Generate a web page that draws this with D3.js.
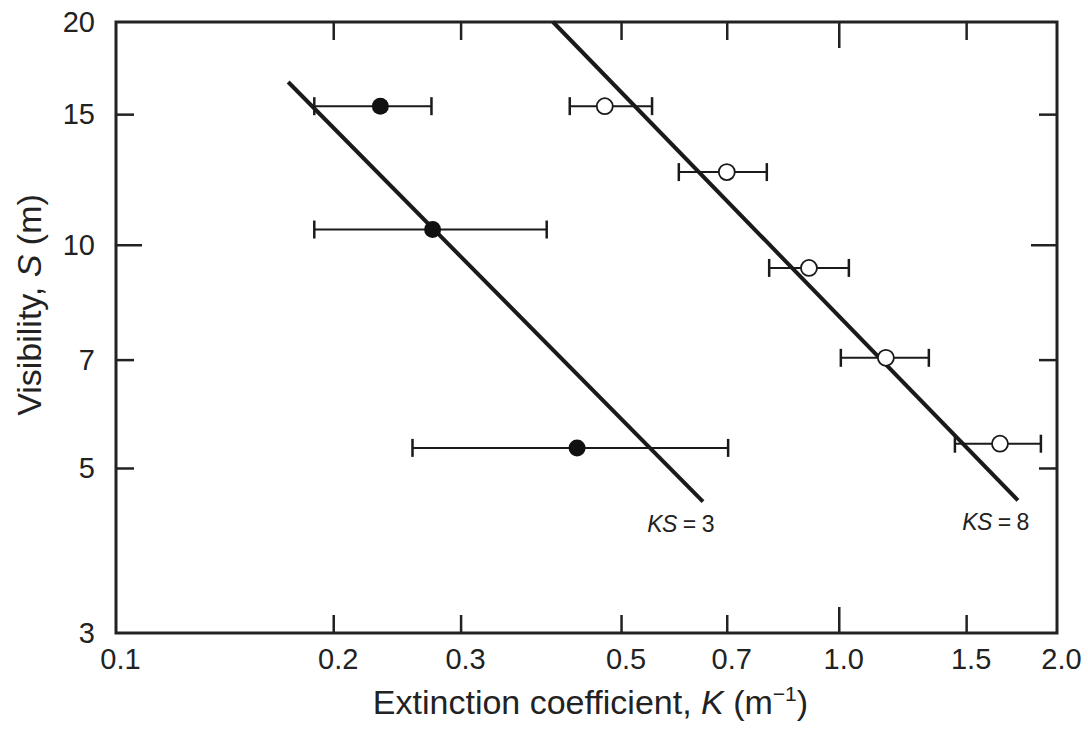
<!DOCTYPE html>
<html>
<head>
<meta charset="utf-8">
<script src="https://cdn.jsdelivr.net/npm/d3@7"></script>
<style>
  body { margin: 0; background: #fff; }
  text { font-family: "Liberation Sans", Arial, sans-serif; fill: #222; }
</style>
</head>
<body>
<script>
// Tick values
var xTicks = [0.1, 0.2, 0.3, 0.5, 0.7, 1.0, 1.5, 2.0];
var xTickLabels = ["0.1", "0.2", "0.3", "0.5", "0.7", "1.0", "1.5", "2.0"];
var yTicks = [3, 5, 7, 10, 15, 20];

// Filled circles (K, S, K low, K high)
var filledK = [0.232, 0.274, 0.434];
var filledS = [15.4, 10.5, 5.33];
var filledLo = [0.188, 0.188, 0.257];
var filledHi = [0.273, 0.394, 0.702];

// Open circles
var openK = [0.474, 0.699, 0.908, 1.16, 1.668];
var openS = [15.4, 12.55, 9.32, 7.05, 5.40];
var openLo = [0.424, 0.600, 0.800, 1.005, 1.445];
var openHi = [0.551, 0.794, 1.031, 1.330, 1.900];

// Lines of constant KS, endpoints [K, S]
var lineKS3 = [[0.173, 16.6], [0.648, 4.51]];
var lineKS8 = [[0.402, 20], [1.766, 4.53]];
var lineLabels = ["3", "8"];

var svgWidth = 1088;
var svgHeight = 735;

var svg = d3.select("body")
    .append("svg")
    .attr("width", svgWidth)
    .attr("height", svgHeight);

var x = d3.scaleLog()
    .domain([0.1, 2.0])
    .range([116, 1057]);

var y = d3.scaleLog()
    .domain([3, 20])
    .range([633, 22]);

var plotLeft = x.range()[0], plotRight = x.range()[1];
var plotTop = y.range()[1], plotBottom = y.range()[0];

// tick labels via axes (no tick lines, no domain)
var bottomAxis = d3.axisBottom(x)
    .tickValues(xTicks)
    .tickFormat((d, i) => xTickLabels[i])
    .tickSize(0)
    .tickPadding(15);

var leftAxis = d3.axisLeft(y)
    .tickValues(yTicks)
    .tickFormat(d3.format("d"))
    .tickSize(0)
    .tickPadding(21);

var gx = svg.append("g")
    .attr("transform", `translate(4, ${plotBottom})`)
    .call(bottomAxis);
gx.select(".domain").remove();
gx.selectAll("text").attr("font-size", "29px").attr("font-family", null).attr("fill", "#222");

var gy = svg.append("g")
    .attr("transform", `translate(${plotLeft}, 0)`)
    .call(leftAxis);
gy.select(".domain").remove();
gy.selectAll("text").attr("font-size", "29px").attr("font-family", null).attr("fill", "#222");

// inward ticks on all four sides
var innerX = xTicks.filter(d => d > 0.1 && d < 2.0);
var innerY = yTicks.filter(d => d > 3 && d < 20);
var tickLen = d => (d === 1.0 || d === 10) ? 26 : 18;

var ticks = svg.append("g")
    .attr("stroke", "#222")
    .attr("stroke-width", 2.5);

innerX.forEach(d => {
    ticks.append("line")
        .attr("x1", x(d)).attr("x2", x(d))
        .attr("y1", plotBottom).attr("y2", plotBottom - tickLen(d));
    ticks.append("line")
        .attr("x1", x(d)).attr("x2", x(d))
        .attr("y1", plotTop).attr("y2", plotTop + tickLen(d));
});
innerY.forEach(d => {
    ticks.append("line")
        .attr("x1", plotLeft).attr("x2", plotLeft + tickLen(d))
        .attr("y1", y(d)).attr("y2", y(d));
    ticks.append("line")
        .attr("x1", plotRight).attr("x2", plotRight - tickLen(d))
        .attr("y1", y(d)).attr("y2", y(d));
});

// frame
svg.append("rect")
    .attr("x", plotLeft)
    .attr("y", plotTop)
    .attr("width", plotRight - plotLeft)
    .attr("height", plotBottom - plotTop)
    .attr("fill", "none")
    .attr("stroke", "#222")
    .attr("stroke-width", 3);

// KS lines
var lineGen = d3.line().x(d => x(d[0])).y(d => y(d[1]));
[lineKS3, lineKS8].forEach((pts, i) => {
    svg.append("path")
        .attr("d", lineGen(pts))
        .attr("fill", "none")
        .attr("stroke", "#1a1a1a")
        .attr("stroke-width", 4);

    var end = pts[1];
    var t = svg.append("text")
        .attr("x", x(end[0]) + 11)
        .attr("y", y(end[1]) + 30)
        .attr("text-anchor", "end")
        .attr("font-size", "23px")
        .attr("letter-spacing", "-0.5px");
    t.append("tspan").attr("font-style", "italic").text("KS");
    t.append("tspan").text(" = " + lineLabels[i]);
});

// error bars + points
function drawSeries(K, S, lo, hi, filled) {
    var g = svg.append("g");
    K.forEach((k, i) => {
        var cy = y(S[i]);
        g.append("line")
            .attr("x1", x(lo[i])).attr("x2", x(hi[i]))
            .attr("y1", cy).attr("y2", cy)
            .attr("stroke", "#1a1a1a").attr("stroke-width", 2);
        [lo[i], hi[i]].forEach(v => {
            g.append("line")
                .attr("x1", x(v)).attr("x2", x(v))
                .attr("y1", cy - 9).attr("y2", cy + 9)
                .attr("stroke", "#1a1a1a").attr("stroke-width", 2.5);
        });
        g.append("circle")
            .attr("cx", x(k))
            .attr("cy", cy)
            .attr("r", filled ? 8.5 : 8)
            .attr("fill", filled ? "#111" : "#fff")
            .attr("stroke", "#1a1a1a")
            .attr("stroke-width", filled ? 0 : 1.8);
    });
}
drawSeries(filledK, filledS, filledLo, filledHi, true);
drawSeries(openK, openS, openLo, openHi, false);

// axis titles
var xt = svg.append("text")
    .attr("x", (plotLeft + plotRight) / 2 + 4)
    .attr("y", 714)
    .attr("text-anchor", "middle")
    .attr("font-size", "34px");
xt.append("tspan").text("Extinction coefficient, ");
xt.append("tspan").attr("font-style", "italic").text("K");
xt.append("tspan").text(" (m");
xt.append("tspan").attr("font-size", "21px").attr("dy", "-13").text("\u22121");
xt.append("tspan").attr("dy", "13").text(")");

var yt = svg.append("text")
    .attr("transform", "translate(41, 305) rotate(-90)")
    .attr("text-anchor", "middle")
    .attr("font-size", "34px");
yt.append("tspan").text("Visibility, ");
yt.append("tspan").attr("font-style", "italic").text("S");
yt.append("tspan").text(" (m)");
</script>
</body>
</html>
